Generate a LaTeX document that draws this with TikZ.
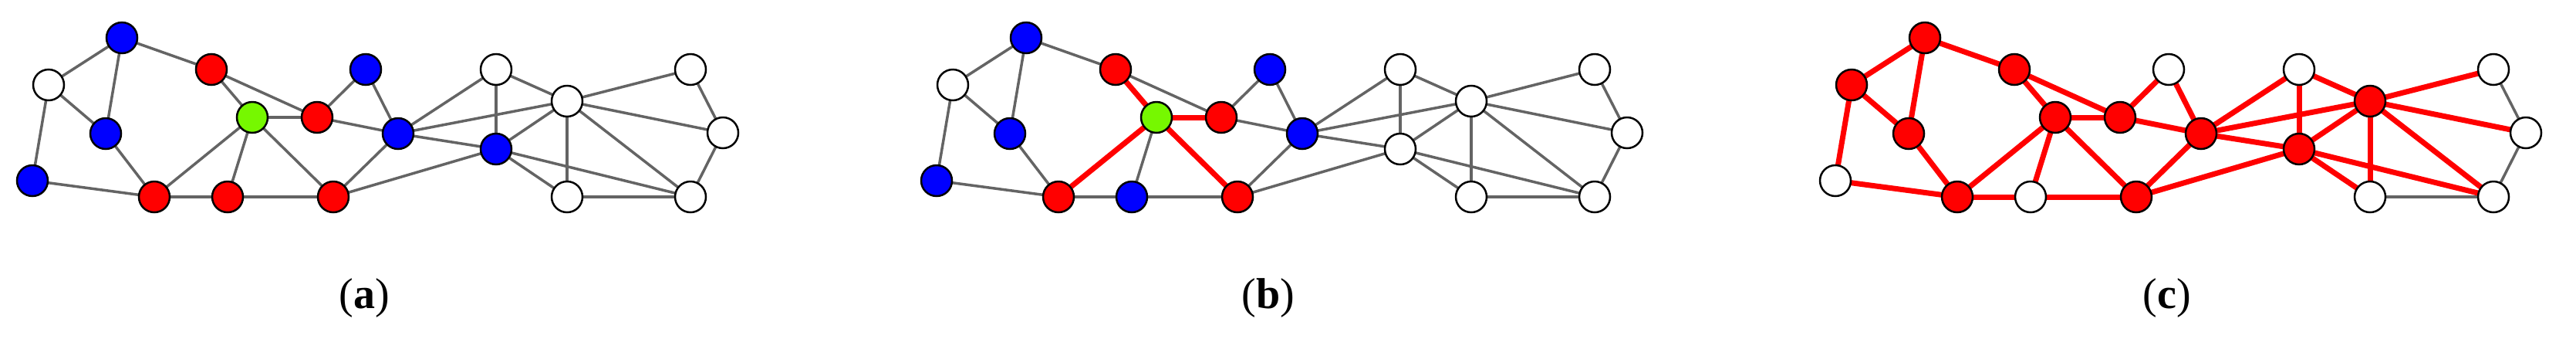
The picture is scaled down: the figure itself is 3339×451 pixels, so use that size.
\documentclass[tikz,border=0pt]{standalone}
\usepackage{fontspec}
\setmainfont{Liberation Serif}
\begin{document}
\begin{tikzpicture}[x=1pt,y=-1pt,
 nd/.style={circle,draw=black,line width=2.5pt,minimum size=40pt,inner sep=0pt,fill=white},
 nb/.style={nd,fill=blue}, nr/.style={nd,fill=red}, ng/.style={nd,fill={rgb,255:red,118;green,248;blue,0}},
 e/.style={draw={rgb,255:red,100;green,100;blue,100},line width=3.5pt},
 re/.style={draw=red,line width=7pt},
 lab/.style={font=\fontsize{56}{60}\selectfont}]
\useasboundingbox (0,0) rectangle (3339,451);
\def\edges#1#2{%
 \foreach \u/\v in {A/W1,A/B2,A/R1,W1/B2,W1/B3,B3/Rb1,B2/Rb1,R1/G,R1/R2,G/R2,G/Rb1,G/Rb2,G/Rb3,R2/Bt,R2/Bm,Bt/Bm,Bm/Rb3,Rb1/Rb2,Rb2/Rb3,Rb3/Bd,Bm/Wt,Bm/Wc,Bm/Bd,Wt/Bd,Wt/Wc,Wc/Bd,Wc/Wtr,Wc/Wr,Wc/Wb1,Wc/Wb2,Bd/Wb1,Bd/Wb2,Wtr/Wr,Wr/Wb2,Wb1/Wb2}{\path[e] (#1\u) -- (#1\v);}%
 \foreach \u/\v in {#2}{\path[re] (#1\u) -- (#1\v);}}
\def\graph#1#2#3{%
 \begin{scope}[xshift=#2]
 \foreach \n/\x/\y in {A/158/49,W1/63/110,B2/137/173,B3/42/234,R1/274/90,G/327/152,R2/411/152,Bt/474/90,Bm/516/173,Rb1/200/255,Rb2/295/255,Rb3/432/255,Wt/643/90,Wc/735/131,Bd/643/193,Wtr/895/90,Wr/937/172,Wb1/735/255,Wb2/895/255}{\coordinate (#1\n) at (\x,\y);}
 \end{scope}}
% panel a
\graph{a}{0}{}
\edges{a}{}
\node[nb] at (aA) {}; \node[nd] at (aW1) {}; \node[nb] at (aB2) {}; \node[nb] at (aB3) {};
\node[nr] at (aR1) {}; \node[ng] at (aG) {}; \node[nr] at (aR2) {}; \node[nb] at (aBt) {};
\node[nb] at (aBm) {}; \node[nr] at (aRb1) {}; \node[nr] at (aRb2) {}; \node[nr] at (aRb3) {};
\node[nd] at (aWt) {}; \node[nd] at (aWc) {}; \node[nb] at (aBd) {}; \node[nd] at (aWtr) {};
\node[nd] at (aWr) {}; \node[nd] at (aWb1) {}; \node[nd] at (aWb2) {};
\node[lab] (la) at (472,386) {(\textbf{a})};
% panel b
\graph{b}{1172}{}
\edges{b}{G/R1,G/R2,G/Rb1,G/Rb3}
\node[nb] at (bA) {}; \node[nd] at (bW1) {}; \node[nb] at (bB2) {}; \node[nb] at (bB3) {};
\node[nr] at (bR1) {}; \node[ng] at (bG) {}; \node[nr] at (bR2) {}; \node[nb] at (bBt) {};
\node[nb] at (bBm) {}; \node[nr] at (bRb1) {}; \node[nb] at (bRb2) {}; \node[nr] at (bRb3) {};
\node[nd] at (bWt) {}; \node[nd] at (bWc) {}; \node[nd] at (bBd) {}; \node[nd] at (bWtr) {};
\node[nd] at (bWr) {}; \node[nd] at (bWb1) {}; \node[nd] at (bWb2) {};
\node[lab] (lb) at (1644,386) {(\textbf{b})};
% panel c
\graph{c}{2337}{}
\edges{c}{A/W1,A/B2,A/R1,W1/B2,W1/B3,B3/Rb1,B2/Rb1,R1/G,R1/R2,G/R2,G/Rb1,G/Rb2,G/Rb3,R2/Bt,R2/Bm,Bt/Bm,Bm/Rb3,Rb1/Rb2,Rb2/Rb3,Rb3/Bd,Bm/Wt,Bm/Wc,Bm/Bd,Wt/Bd,Wt/Wc,Wc/Bd,Wc/Wtr,Wc/Wr,Wc/Wb1,Wc/Wb2,Bd/Wb1,Bd/Wb2}
\foreach \n in {A,W1,B2,R1,G,R2,Bm,Rb1,Rb3,Bd,Wc}{\node[nr] at (c\n) {};}
\foreach \n in {B3,Bt,Rb2,Wt,Wtr,Wr,Wb1,Wb2}{\node[nd] at (c\n) {};}
\node[lab] (lc) at (2809,386) {(\textbf{c})};
\end{tikzpicture}
\end{document}
